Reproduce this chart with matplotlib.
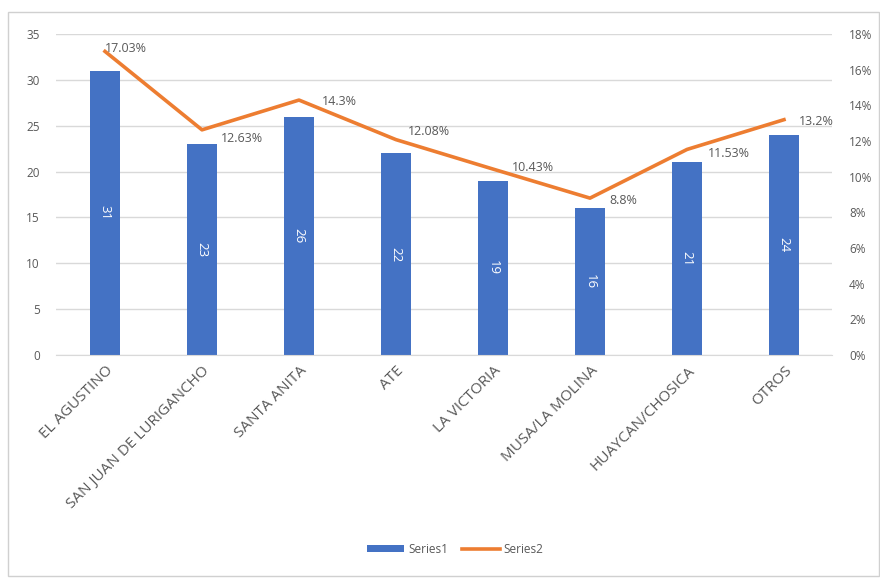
import numpy as np
import matplotlib.pyplot as plt
from matplotlib.patches import Rectangle
from matplotlib.ticker import PercentFormatter

plt.rcParams['font.family'] = ['Open Sans', 'DejaVu Sans']

categories = ['EL AGUSTINO', 'SAN JUAN DE LURIGANCHO', 'SANTA ANITA', 'ATE',
              'LA VICTORIA', 'MUSA/LA MOLINA', 'HUAYCAN/CHOSICA', 'OTROS']
series1 = [31, 23, 26, 22, 19, 16, 21, 24]
series2 = [17.03, 12.63, 14.3, 12.08, 10.43, 8.8, 11.53, 13.2]
pct_labels = ['17.03%', '12.63%', '14.3%', '12.08%', '10.43%', '8.8%', '11.53%', '13.2%']

# offsets (points) of the percentage labels, Excel style placement
label_offsets = [(15, 2), (29, -6), (29, -1), (24, 6), (29, 1), (24, -2), (30, -3), (23, -1)]

BLUE = '#4472C4'
ORANGE = '#ED7D31'
GREY = '#595959'
GRID = '#D9D9D9'

def main():
    fig = plt.figure(figsize=(8.8, 5.78), dpi=100)
    fig.patches.append(Rectangle((0.009, 0.003), 0.99, 0.977, transform=fig.transFigure,
                                 fill=False, edgecolor='#D0D0D0', linewidth=1))
    ax = fig.add_axes([0.0642, 0.3858, 0.8818, 0.5552])
    ax2 = ax.twinx()

    x = np.arange(len(categories))
    bars = ax.bar(x, series1, width=0.31, color=BLUE, label='Series1', zorder=2)
    for b, v in zip(bars, series1):
        ax.text(b.get_x() + b.get_width() / 2, v / 2, str(v), rotation=-90,
                ha='center', va='center', color='white', fontsize=9.5)

    ax.set_ylim(0, 35)
    ax.set_yticks(range(0, 36, 5))
    ax.set_xlim(-0.5, len(categories) - 0.5)
    ax.set_xticks(x)
    ax.set_xticklabels(categories, rotation=45, ha='right', rotation_mode='anchor')
    ax.yaxis.grid(True, color=GRID, linewidth=1, zorder=0)
    ax.set_axisbelow(True)

    line, = ax2.plot(x, series2, color=ORANGE, linewidth=2.6, label='Series2', zorder=3)
    ax2.set_ylim(0, 18)
    ax2.set_yticks(range(0, 19, 2))
    ax2.yaxis.set_major_formatter(PercentFormatter(decimals=0))
    for xi, v, lab, off in zip(x, series2, pct_labels, label_offsets):
        ax2.annotate(lab, (xi, v), xytext=off, textcoords='offset points',
                     ha='center', va='center', color=GREY, fontsize=9)

    for a in (ax, ax2):
        for s in a.spines.values():
            s.set_visible(False)
        a.tick_params(length=0, colors=GREY, labelsize=8.5)
    ax.spines['bottom'].set_visible(True)
    ax.spines['bottom'].set_color(GRID)
    ax.tick_params(axis='y', pad=12)
    ax.tick_params(axis='x', pad=6, labelsize=11)
    ax2.tick_params(axis='y', pad=12)

    fig.legend([bars, line], ['Series1', 'Series2'], loc='center',
               bbox_to_anchor=(0.517, 0.05), ncol=2, frameon=False,
               fontsize=8.5, labelcolor=GREY, handlelength=3.2, handleheight=0.5,
               columnspacing=1.2, handletextpad=0.3)

    fig.savefig('out.png', dpi=100)

main()
